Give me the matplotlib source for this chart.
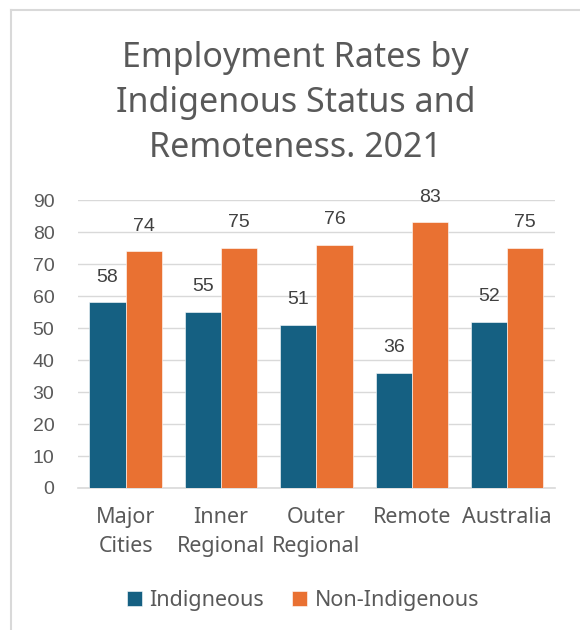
import numpy as np
import matplotlib.pyplot as plt
from matplotlib.lines import Line2D

categories = ["Major\nCities", "Inner\nRegional", "Outer\nRegional", "Remote", "Australia"]
indigenous = [58, 55, 51, 36, 52]
non_indigenous = [74, 75, 76, 83, 75]
yticks = [0, 10, 20, 30, 40, 50, 60, 70, 80, 90]

BLUE = "#156082"
ORANGE = "#E97132"
TEXT = "#595959"
GRID = "#d9d9d9"
FONT = "Noto Sans"

fig = plt.figure(figsize=(5.8, 6.3), dpi=100)
ax = fig.add_axes([0.1345, 0.2254, 0.822, 0.457])

x = np.arange(len(categories))
w = 0.38
b1 = ax.bar(x - w / 2, indigenous, w, color=BLUE, edgecolor="white", linewidth=0.4,
            label="Indigneous", zorder=3)
b2 = ax.bar(x + w / 2, non_indigenous, w, color=ORANGE, edgecolor="white", linewidth=0.4,
            label="Non-Indigenous", zorder=3)

for bars in (b1, b2):
    for rect in bars:
        h = rect.get_height()
        ax.annotate(f"{h:.0f}", (rect.get_x() + rect.get_width() / 2, h),
                    xytext=(0, 12), textcoords="offset points", ha="center", va="bottom",
                    fontsize=14, color="#404040", family="Liberation Sans")

ax.set_xlim(-0.5, len(categories) - 0.5)
ax.set_ylim(0, 90)
ax.set_yticks(yticks)
ax.set_yticklabels([str(t) for t in yticks], fontsize=14, color=TEXT, family="Liberation Sans")
ax.set_xticks(x)
ax.set_xticklabels(categories, fontsize=15.5, color=TEXT, family=FONT, linespacing=1.5)
ax.tick_params(axis="y", length=0, pad=17)
ax.tick_params(axis="x", length=0, pad=14)
ax.grid(axis="y", color=GRID, linewidth=1.0, zorder=0)
for s in ["top", "right", "left"]:
    ax.spines[s].set_visible(False)
ax.spines["bottom"].set_color(GRID)
ax.spines["bottom"].set_linewidth(1.2)

fig.text(0.51, 0.836, "Employment Rates by\nIndigenous Status and\nRemoteness. 2021",
         ha="center", va="center", fontsize=24.5, color=TEXT, family=FONT, linespacing=1.42)

leg = fig.legend(loc="center", bbox_to_anchor=(0.522, 0.047), ncol=2, frameon=False,
                 prop={"family": FONT, "size": 15.5}, handlelength=0.7, handleheight=0.7,
                 handletextpad=0.35, columnspacing=1.3)
for t in leg.get_texts():
    t.set_color(TEXT)

# chart frame (only top and left edges show in the crop)
fig.add_artist(Line2D([11 / 580, 11 / 580], [0, 1 - 10 / 630], color=GRID, linewidth=1.5,
                      transform=fig.transFigure))
fig.add_artist(Line2D([11 / 580, 1], [1 - 10 / 630, 1 - 10 / 630], color=GRID, linewidth=1.5,
                      transform=fig.transFigure))

fig.savefig("out.png", dpi=100, facecolor="white")
